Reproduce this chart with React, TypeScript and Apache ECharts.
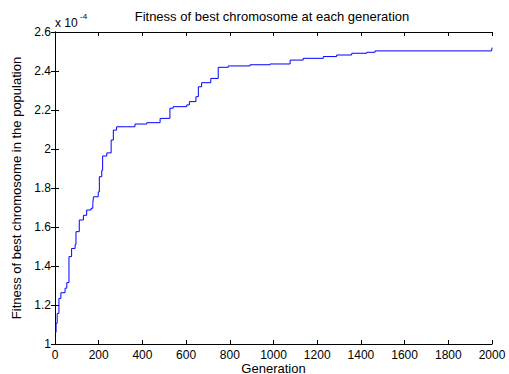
import React, { useEffect, useRef } from "react";
import * as echarts from "echarts";

const generations = [0, 5, 10, 18, 27, 46, 54, 64, 76, 92, 96, 111, 130, 145, 165, 173, 176, 198, 203, 214, 218, 237, 257, 267, 282, 328, 366, 420, 481, 526, 541, 603, 615, 645, 656, 671, 713, 747, 793, 893, 984, 1076, 1136, 1228, 1289, 1358, 1427, 1465, 1998, 2000];
const fitness = [1.06, 1.106, 1.157, 1.234, 1.263, 1.286, 1.315, 1.448, 1.49, 1.51, 1.576, 1.636, 1.66, 1.687, 1.696, 1.72, 1.755, 1.78, 1.858, 1.89, 1.964, 1.98, 2.046, 2.097, 2.114, 2.114, 2.128, 2.135, 2.157, 2.209, 2.217, 2.226, 2.243, 2.268, 2.319, 2.34, 2.362, 2.419, 2.426, 2.432, 2.436, 2.456, 2.465, 2.474, 2.482, 2.491, 2.496, 2.503, 2.503, 2.52];

const FONT = "Liberation Sans, Arial, sans-serif";

export default function App() {
  const ref = useRef<HTMLDivElement>(null);
  useEffect(() => {
    if (!ref.current) return;
    const chart = echarts.init(ref.current, undefined, { renderer: "svg" });
    const data = generations.map((g, i) => [g, fitness[i]]);
    const axisCommon = {
      axisLine: { show: true, lineStyle: { color: "#000", width: 1 } },
      axisTick: { show: true, inside: true, length: 4, lineStyle: { color: "#000" } },
      splitLine: { show: false },
    };
    chart.setOption({
      animation: false,
      backgroundColor: "#fff",
      title: {
        text: "Fitness of best chromosome at each generation",
        left: 272,
        textAlign: "center",
        top: 10,
        padding: 0,
        textStyle: { fontFamily: FONT, fontSize: 13, fontWeight: "normal", color: "#000" },
      },
      grid: { left: 55, right: 17, top: 32, bottom: 30, containLabel: false, outerBoundsMode: "none" },
      xAxis: [
        {
          type: "value", min: 0, max: 2000, interval: 200, position: "bottom",
          name: "Generation", nameLocation: "middle", nameGap: 18, nameMoveOverlap: false,
          nameTextStyle: { fontFamily: FONT, fontSize: 13, color: "#000", lineHeight: 12 },
          axisLabel: { fontFamily: FONT, fontSize: 12, lineHeight: 12, color: "#000", margin: 5, formatter: (v: number) => String(v) },
          ...axisCommon,
        },
        {
          type: "value", min: 0, max: 2000, interval: 200, position: "top",
          axisLabel: { show: false },
          ...axisCommon,
        },
      ],
      yAxis: [
        {
          type: "value", min: 1, max: 2.6, interval: 0.2, position: "left",
          name: "Fitness of best chromosome in the population", nameLocation: "middle", nameGap: 32, nameMoveOverlap: false,
          nameTextStyle: { fontFamily: FONT, fontSize: 13, color: "#000" },
          axisLabel: { fontFamily: FONT, fontSize: 12, color: "#000", margin: 4 },
          ...axisCommon,
        },
        {
          type: "value", min: 1, max: 2.6, interval: 0.2, position: "right",
          axisLabel: { show: false },
          ...axisCommon,
        },
      ],
      graphic: [
        {
          type: "text", left: 55, top: 17,
          style: { text: "x 10", fontFamily: FONT, fontSize: 12, fill: "#000" },
        },
        {
          type: "text", left: 80, top: 12,
          style: { text: "-4", fontFamily: FONT, fontSize: 8, fill: "#000" },
        },
      ],
      series: [
        {
          type: "line",
          data,
          step: "end",
          showSymbol: false,
          lineStyle: { color: "#0000ff", width: 1 },
          xAxisIndex: 0,
          yAxisIndex: 0,
        },
      ],
    });
    return () => chart.dispose();
  }, []);
  return <div ref={ref} style={{ width: 509, height: 374, position: "absolute", left: 0, top: 0 }} />;
}
